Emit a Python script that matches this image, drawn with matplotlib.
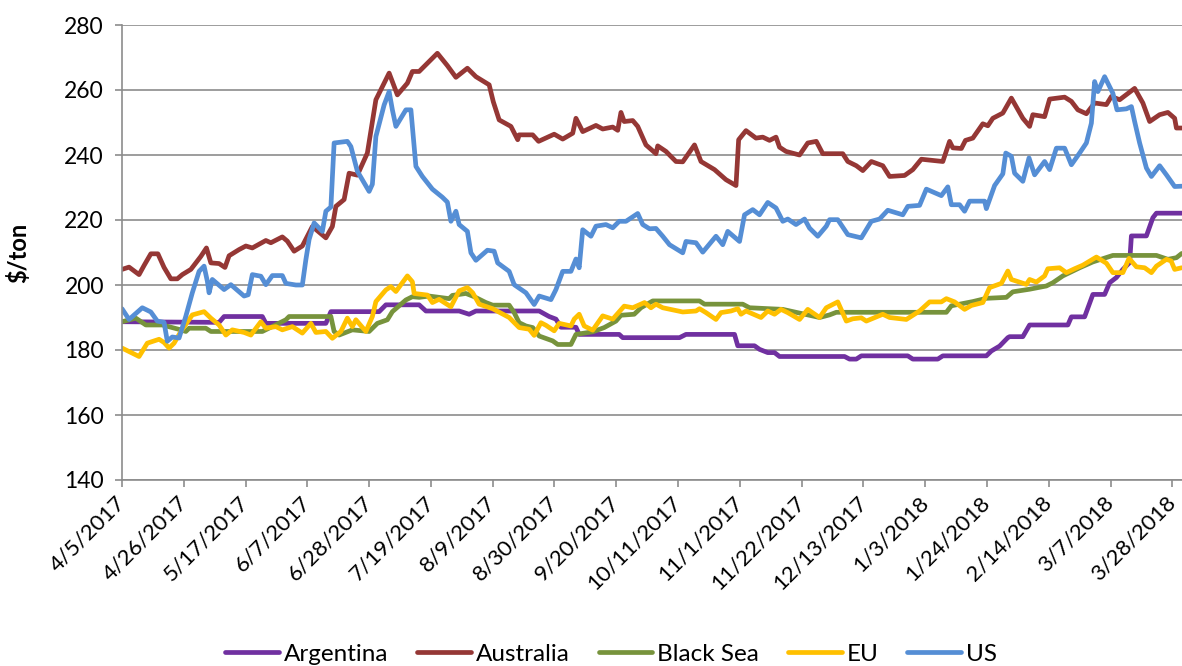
"""Export price comparison: Argentina, Australia, Black Sea, EU and US ($/ton)."""

import matplotlib

matplotlib.use("Agg")
import matplotlib.pyplot as plt
import pandas as pd

START = pd.Timestamp("2017-04-05")

# Each series is given by its vertices: days since 4/5/2017 and $/ton.
arg_days = [0, 33.0, 34.7, 47.7, 48.9, 69.3, 71.0, 87.4, 89.7, 101.0, 103.3, 114.6,
            118.0, 120.3, 141.8, 145.2, 147.5, 149.2, 154.3, 155.4, 169.0, 170.2,
            189.5, 191.7, 208.2, 209.3, 215.0, 216.7, 219.5, 221.8, 223.5, 245.6,
            247.3, 249.6, 251.3, 267.1, 268.8, 277.3, 279.0, 293.8, 295.5, 298.3,
            301.1, 301.7, 306.2, 308.5, 321.5, 322.7, 327.2, 330.0, 334.0, 335.7,
            338.0, 340.2, 342.5, 343.1, 348.2, 350.4, 351.6, 360.2]
arg_vals = [188.7, 188.5, 190.3, 190.3, 188.2, 188.2, 191.8, 191.8, 193.9, 193.9,
            192.0, 192.0, 191.0, 192.0, 192.0, 190.3, 189.5, 187.0, 187.0, 184.8,
            184.8, 183.8, 183.8, 184.8, 184.8, 181.3, 181.3, 180.2, 179.2, 179.2,
            178.0, 178.0, 177.2, 177.2, 178.2, 178.2, 177.2, 177.2, 178.2, 178.2,
            179.7, 181.2, 183.8, 184.1, 184.1, 187.7, 187.7, 190.2, 190.2, 197.1,
            197.1, 200.7, 202.3, 204.8, 206.9, 215.1, 215.1, 220.7, 222.1, 222.1]

aus_days = [0, 2.4, 5.8, 7.5, 9.8, 12.2, 14.3, 16.6, 18.8, 20.5, 23.4, 26.8, 28.7,
            30.2, 33.0, 35.0, 36.4, 39.8, 42.1, 44.3, 48.9, 50.6, 54.5, 56.2, 58.5,
            61.3, 64.7, 69.3, 71.5, 72.7, 75.5, 77.2, 80.0, 83.4, 86.3, 90.8, 93.6,
            97.0, 98.7, 101.0, 107.2, 110.6, 113.5, 117.4, 120.3, 124.8, 126.2,
            128.2, 132.2, 134.5, 135.0, 139.6, 141.6, 146.9, 149.8, 153.2, 154.3,
            156.6, 161.1, 163.4, 166.8, 168.5, 169.6, 170.7, 173.6, 175.3, 178.1,
            181.5, 182.1, 184.9, 188.3, 190.6, 194.6, 196.8, 201.4, 205.3, 208.7,
            209.6, 212.1, 215.5, 217.8, 220.1, 222.3, 223.5, 225.7, 230.3, 233.1,
            236.0, 238.2, 245.0, 246.7, 249.6, 251.8, 254.7, 258.6, 260.9, 266.0,
            268.8, 271.7, 279.0, 281.3, 282.4, 285.3, 286.7, 289.2, 292.6, 294.3,
            296.0, 299.4, 302.3, 306.2, 308.5, 309.6, 313.6, 315.3, 320.4, 322.7,
            324.9, 327.8, 330.6, 334.6, 336.3, 339.1, 344.2, 347.0, 349.3, 352.7,
            355.5, 357.8, 358.4, 360.2]
aus_vals = [204.8, 205.5, 203.2, 206.0, 209.6, 209.6, 205.4, 201.9, 201.9, 203.2,
            204.8, 208.8, 211.4, 206.8, 206.6, 205.4, 209.0, 210.9, 212.0, 211.4,
            213.7, 213.0, 214.8, 213.5, 210.4, 212.0, 218.0, 214.5, 218.0, 224.2,
            226.3, 234.4, 233.8, 240.6, 257.0, 265.2, 258.5, 262.1, 265.7, 265.7,
            271.3, 267.5, 263.9, 266.7, 264.1, 261.6, 256.4, 250.8, 248.8, 244.7,
            246.2, 246.2, 244.2, 246.4, 244.9, 246.7, 251.3, 247.2, 249.1, 248.0,
            248.6, 247.6, 253.1, 250.3, 250.6, 248.8, 243.1, 240.4, 242.8, 241.1,
            238.0, 237.9, 243.1, 238.0, 235.5, 232.4, 230.6, 244.7, 247.5, 245.2,
            245.5, 244.5, 245.5, 242.4, 241.1, 240.0, 243.7, 244.2, 240.4, 240.4,
            238.0, 236.7, 235.2, 238.0, 236.7, 233.4, 233.7, 235.5, 238.7, 238.0,
            244.2, 242.2, 242.0, 244.5, 245.2, 249.6, 249.0, 251.3, 252.9, 257.5,
            251.3, 248.8, 252.4, 251.8, 257.2, 257.8, 256.5, 253.9, 252.7, 256.0,
            255.5, 258.0, 257.0, 260.5, 256.0, 250.3, 252.4, 253.1, 251.3, 248.3,
            248.3]

bsea_days = [0, 4.7, 8.1, 13.7, 20.0, 21.7, 22.8, 28.5, 30.2, 47.7, 55.7, 56.8, 71.0,
             72.1, 73.8, 78.3, 84.0, 86.8, 90.2, 91.9, 96.5, 98.7, 101.0, 104.4,
             111.2, 112.3, 116.9, 119.7, 123.7, 126.0, 131.6, 133.3, 135.0, 137.3,
             139.6, 141.8, 146.4, 148.1, 152.6, 154.3, 160.0, 163.9, 167.9, 169.6,
             174.1, 176.4, 180.4, 196.3, 198.0, 211.0, 213.3, 224.6, 237.1, 240.5,
             242.8, 280.2, 281.9, 289.2, 293.8, 300.6, 302.8, 308.5, 314.2, 316.4,
             319.8, 325.5, 330.0, 336.8, 351.6, 355.5, 358.4, 360.2]
bsea_vals = [188.7, 189.8, 187.7, 187.7, 186.2, 185.7, 186.7, 186.7, 185.7, 185.7,
             189.3, 190.3, 190.3, 185.7, 184.6, 186.2, 185.7, 188.2, 189.3, 191.8,
             195.4, 196.4, 196.2, 196.6, 195.8, 196.8, 197.4, 196.4, 194.6, 193.8,
             193.8, 191.5, 188.4, 187.4, 186.9, 184.3, 182.8, 181.7, 181.7, 184.8,
             185.6, 186.9, 188.9, 190.7, 191.0, 193.0, 195.1, 195.1, 194.1, 194.1,
             193.0, 192.5, 190.0, 190.8, 191.6, 191.6, 193.6, 194.9, 195.9, 196.2,
             197.9, 198.7, 199.7, 200.7, 202.8, 205.3, 207.1, 209.1, 209.1, 207.9,
             208.4, 209.7]

eu_days = [0, 5.8, 8.6, 12.6, 14.3, 16.0, 17.7, 20.0, 23.9, 27.9, 30.2, 33.0, 35.3,
           37.5, 41.5, 43.8, 47.2, 48.9, 52.3, 54.5, 57.9, 61.3, 64.2, 65.9, 69.3,
           71.5, 74.4, 76.6, 78.3, 79.5, 82.9, 85.1, 86.3, 89.7, 91.4, 93.1, 97.0,
           98.7, 99.3, 103.8, 105.5, 107.8, 111.8, 114.6, 117.4, 119.2, 121.4,
           126.0, 131.6, 135.0, 138.4, 140.1, 142.4, 144.1, 146.9, 148.6, 152.6,
           153.7, 155.4, 157.1, 160.0, 163.4, 166.8, 170.7, 173.6, 177.6, 179.8,
           181.5, 183.8, 190.6, 195.1, 196.3, 198.5, 201.9, 203.6, 207.0, 209.3,
           210.4, 212.1, 217.2, 219.5, 221.8, 224.0, 226.3, 230.3, 233.1, 237.1,
           239.4, 243.3, 246.2, 248.4, 251.3, 253.0, 258.6, 260.9, 266.6, 271.1,
           274.5, 278.5, 280.2, 283.0, 286.4, 288.7, 292.6, 294.9, 298.9, 301.1,
           302.3, 307.4, 308.5, 310.8, 313.6, 314.7, 318.7, 321.0, 323.8, 326.6,
           331.2, 334.6, 336.8, 340.2, 342.3, 344.8, 347.6, 349.9, 351.6, 355.0,
           356.6, 357.8, 360.2]
eu_vals = [180.6, 178.0, 182.1, 183.3, 182.3, 180.6, 182.1, 185.7, 190.8, 191.8,
           189.8, 187.7, 184.6, 186.2, 185.4, 184.6, 188.7, 186.7, 187.2, 186.2,
           187.2, 185.2, 188.2, 185.4, 185.7, 183.6, 185.7, 189.8, 187.2, 189.3,
           185.7, 190.3, 194.9, 198.5, 199.5, 198.0, 202.8, 201.0, 197.4, 196.9,
           194.6, 195.6, 193.3, 198.2, 199.2, 197.6, 194.1, 192.7, 190.0, 186.9,
           186.4, 184.5, 188.4, 187.6, 185.9, 188.2, 187.4, 189.5, 191.0, 187.4,
           186.1, 190.5, 189.5, 193.5, 193.0, 194.6, 193.0, 194.1, 193.0, 191.7,
           192.0, 192.7, 191.5, 189.4, 191.5, 192.0, 192.7, 191.0, 192.0, 190.0,
           192.0, 191.0, 192.5, 191.5, 189.4, 192.5, 190.0, 193.0, 194.8, 188.9,
           189.6, 189.9, 188.9, 191.0, 190.0, 189.4, 192.0, 194.8, 194.8, 195.8,
           194.8, 192.5, 193.7, 194.6, 199.2, 200.5, 204.3, 201.7, 200.2, 201.7,
           200.9, 202.8, 205.0, 205.3, 203.8, 205.0, 206.1, 208.6, 206.7, 203.8,
           203.8, 208.2, 205.6, 205.3, 203.8, 205.8, 207.9, 207.4, 204.8, 205.3]

us_days = [0, 2.4, 6.9, 9.8, 12.0, 14.3, 15.4, 17.1, 19.4, 21.7, 23.9, 26.2, 27.9,
           29.0, 29.6, 30.7, 34.7, 37.0, 41.5, 42.9, 44.3, 47.2, 48.9, 51.1, 54.5,
           55.7, 59.1, 61.3, 62.5, 63.6, 65.3, 68.1, 69.3, 71.0, 72.1, 76.6, 77.8,
           80.0, 84.0, 85.1, 86.3, 89.1, 90.8, 91.9, 93.1, 96.5, 98.2, 99.9, 102.1,
           105.5, 108.9, 110.6, 111.8, 113.5, 114.6, 117.4, 118.6, 120.3, 124.2,
           126.5, 127.7, 131.6, 133.3, 137.3, 140.1, 141.8, 145.8, 147.5, 149.8,
           152.6, 154.3, 155.4, 156.6, 159.4, 161.1, 164.5, 166.8, 169.0, 171.3,
           175.3, 177.0, 179.3, 181.5, 183.8, 186.1, 190.6, 191.7, 195.1, 197.4,
           201.9, 204.2, 205.9, 209.9, 211.6, 214.4, 216.7, 219.5, 222.3, 224.6,
           226.3, 229.1, 232.0, 233.7, 236.5, 239.4, 240.5, 243.3, 246.7, 251.3,
           254.7, 257.5, 260.3, 265.4, 267.1, 271.1, 273.4, 278.5, 280.7, 281.9,
           284.7, 286.4, 288.1, 293.2, 293.8, 295.5, 296.6, 299.4, 300.4, 302.3,
           303.4, 306.2, 308.3, 310.2, 313.6, 315.3, 317.6, 320.4, 322.7, 325.5,
           327.8, 329.5, 330.6, 331.7, 334.0, 335.7, 336.8, 338.2, 341.4, 343.1,
           344.2, 345.9, 348.2, 349.9, 352.7, 355.0, 357.8, 360.2]
us_vals = [192.7, 189.4, 193.0, 191.7, 188.9, 188.5, 182.7, 184.0, 183.7, 190.4,
           197.6, 204.2, 205.8, 201.2, 197.6, 201.7, 198.6, 200.1, 196.6, 197.0,
           203.2, 202.7, 200.1, 202.9, 202.9, 200.5, 200.0, 200.0, 207.8, 214.0,
           219.1, 216.5, 222.7, 224.0, 243.7, 244.2, 242.6, 235.0, 228.8, 231.0,
           245.7, 255.4, 259.5, 253.9, 248.8, 253.9, 253.9, 236.5, 233.4, 229.5,
           227.0, 225.5, 219.6, 222.7, 218.6, 216.5, 209.9, 207.6, 210.7, 210.4,
           206.8, 204.2, 200.1, 197.6, 194.0, 196.6, 195.5, 198.6, 204.2, 204.2,
           208.0, 205.3, 217.0, 215.0, 218.1, 218.6, 217.6, 219.6, 219.6, 222.0,
           218.6, 217.3, 217.4, 215.0, 212.4, 209.9, 213.4, 213.0, 210.1, 215.0,
           212.4, 216.5, 213.4, 221.6, 223.2, 221.6, 225.4, 223.7, 219.6, 220.3,
           218.6, 220.3, 217.5, 215.0, 218.1, 220.1, 220.1, 215.5, 214.5, 219.6,
           220.3, 223.0, 221.6, 224.2, 224.5, 229.5, 227.5, 230.2, 224.7, 224.7,
           222.7, 225.8, 225.8, 223.5, 227.8, 230.6, 234.2, 240.6, 239.6, 234.4,
           231.9, 239.1, 233.9, 238.0, 235.5, 242.1, 242.1, 237.0, 240.6, 243.7,
           249.8, 262.6, 259.5, 264.1, 261.0, 259.0, 253.9, 254.2, 254.9, 250.3,
           243.7, 236.0, 233.4, 236.7, 233.9, 230.3, 230.4]

series = [
    ("Argentina", arg_days, arg_vals, "#7030A0"),
    ("Australia", aus_days, aus_vals, "#953735"),
    ("Black Sea", bsea_days, bsea_vals, "#77933C"),
    ("EU", eu_days, eu_vals, "#FFC000"),
    ("US", us_days, us_vals, "#558ED5"),
]

plt.rcParams["font.family"] = ["Lato", "DejaVu Sans"]
GRID = "#8c8c8c"

fig = plt.figure(figsize=(11.82, 6.66), dpi=100)
ax = fig.add_axes([122 / 1182, 1 - 480 / 666, 1 - 122 / 1182, (480 - 25) / 666])

for name, days, vals, color in series:
    dates = START + pd.to_timedelta(days, unit="D")
    ax.plot(dates, vals, color=color, lw=3.4, label=name,
            solid_joinstyle="round", solid_capstyle="round")

ax.set_ylim(140, 280)
ax.set_yticks(range(140, 281, 20))
ax.set_xlim(START, START + pd.Timedelta(days=360.3))
ticks = pd.date_range(START, "2018-03-28", freq="21D")
ax.set_xticks(ticks)
ax.set_xticklabels([f"{d.month}/{d.day}/{d.year}" for d in ticks],
                   rotation=45, ha="right", va="center", rotation_mode="anchor")

ax.grid(axis="y", color=GRID, lw=1.2)
ax.set_axisbelow(True)
for side in ("top", "right"):
    ax.spines[side].set_visible(False)
for side in ("left", "bottom"):
    ax.spines[side].set_color(GRID)
    ax.spines[side].set_linewidth(1.2)
ax.tick_params(axis="both", colors=GRID, labelcolor="black", labelsize=16,
               length=5, width=1.2)
ax.tick_params(axis="x", pad=9)
ax.tick_params(axis="y", labelsize=16.5, pad=8)
ax.set_ylabel("$/ton", fontsize=17, fontweight="bold")
ax.yaxis.set_label_coords(-0.087, 0.5)

fig.legend(loc="center", bbox_to_anchor=(0.517, 0.018), ncol=5, frameon=False,
           fontsize=17.5, handlelength=2.2, handletextpad=0.2, columnspacing=1.2)

fig.savefig("out.png", dpi=100)
